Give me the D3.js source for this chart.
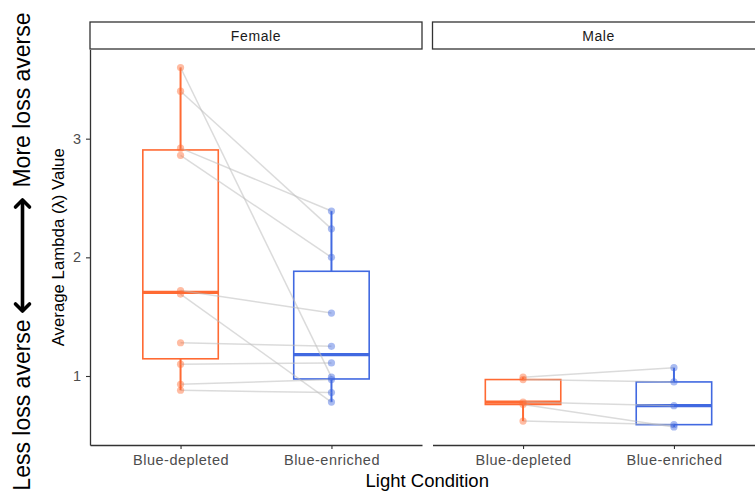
<!DOCTYPE html>
<html>
<head>
<meta charset="utf-8">
<script src="https://cdn.jsdelivr.net/npm/d3@7"></script>
<style>
  body { margin: 0; background: #fff; }
  svg { display: block; font-family: "Liberation Sans", Arial, sans-serif; }
</style>
</head>
<body>
<div id="vis"></div>
<script>
// set constants
const FRAME_WIDTH = 755;
const FRAME_HEIGHT = 492;

// data (paired: index i in depleted matches index i in enriched)
const PANELS = ["Female", "Male"];
const CONDITIONS = ["Blue-depleted", "Blue-enriched"];
const FEMALE_DEPLETED = [3.60, 3.40, 2.92, 2.86, 1.72, 1.69, 1.28, 1.10, 0.93, 0.88];
const FEMALE_ENRICHED = [0.99, 2.24, 2.39, 2.00, 1.53, 0.78, 1.25, 1.11, 0.97, 0.86];
const MALE_DEPLETED = [0.99, 0.97, 0.78, 0.76, 0.62];
const MALE_ENRICHED = [1.07, 0.95, 0.75, 0.57, 0.59];
const Y_TICKS = [1, 2, 3];

const COLORS = {"Blue-depleted": "#FF6A33", "Blue-enriched": "#4169E1"};

const PANEL_TOP = 49.5;
const PANEL_BOTTOM = 445;
const STRIP_TOP = 22;
const PANEL_X = [[90, 422], [432.5, 764.5]];
const TICK_FONT = "14.5px";

const FRAME = d3.select("#vis")
  .append("svg")
    .attr("width", FRAME_WIDTH)
    .attr("height", FRAME_HEIGHT);

const allVals = FEMALE_DEPLETED.concat(FEMALE_ENRICHED, MALE_DEPLETED, MALE_ENRICHED);
const yMin = d3.min(allVals), yMax = d3.max(allVals);
const pad = (yMax - yMin) * 0.05;

const Y_SCALE = d3.scaleLinear()
  .domain([yMin - pad, yMax + pad])
  .range([PANEL_BOTTOM, PANEL_TOP]);

const panelData = [
  {name: PANELS[0], dep: FEMALE_DEPLETED, enr: FEMALE_ENRICHED},
  {name: PANELS[1], dep: MALE_DEPLETED, enr: MALE_ENRICHED}
];

function boxStats(vals) {
  const s = vals.slice().sort(d3.ascending);
  const q1 = d3.quantile(s, 0.25), med = d3.quantile(s, 0.5), q3 = d3.quantile(s, 0.75);
  const iqr = q3 - q1;
  const lo = d3.min(s.filter(v => v >= q1 - 1.5 * iqr));
  const hi = d3.max(s.filter(v => v <= q3 + 1.5 * iqr));
  return {q1, med, q3, lo, hi};
}

panelData.forEach((p, i) => {
  const [x0, x1] = PANEL_X[i];
  const X_SCALE = d3.scalePoint().domain(CONDITIONS).range([x0, x1]).padding(0.6);
  const boxW = X_SCALE.step() * 0.5;
  const g = FRAME.append("g");

  // strip
  g.append("rect")
    .attr("x", x0).attr("y", STRIP_TOP)
    .attr("width", x1 - x0).attr("height", PANEL_TOP - STRIP_TOP - 0.5)
    .attr("fill", "#fff").attr("stroke", "#333").attr("stroke-width", 1.3);
  g.append("text")
    .attr("x", (x0 + x1) / 2).attr("y", 40.7)
    .attr("text-anchor", "middle")
    .style("font-size", "14px").style("letter-spacing", "0.6px")
    .attr("fill", "#1a1a1a")
    .text(p.name);

  // boxes
  [["Blue-depleted", p.dep], ["Blue-enriched", p.enr]].forEach(([c, vals]) => {
    const st = boxStats(vals);
    const cx = X_SCALE(c);
    const col = COLORS[c];
    g.append("line")
      .attr("x1", cx).attr("x2", cx)
      .attr("y1", Y_SCALE(st.hi)).attr("y2", Y_SCALE(st.q3))
      .attr("stroke", col).attr("stroke-width", 2);
    g.append("line")
      .attr("x1", cx).attr("x2", cx)
      .attr("y1", Y_SCALE(st.q1)).attr("y2", Y_SCALE(st.lo))
      .attr("stroke", col).attr("stroke-width", 2);
    g.append("rect")
      .attr("x", cx - boxW / 2).attr("width", boxW)
      .attr("y", Y_SCALE(st.q3)).attr("height", Y_SCALE(st.q1) - Y_SCALE(st.q3))
      .attr("fill", "none").attr("stroke", col).attr("stroke-width", 1.6);
    g.append("line")
      .attr("x1", cx - boxW / 2).attr("x2", cx + boxW / 2)
      .attr("y1", Y_SCALE(st.med)).attr("y2", Y_SCALE(st.med))
      .attr("stroke", col).attr("stroke-width", 3.2);
  });

  // paired lines
  g.append("g")
    .selectAll("line")
    .data(d3.zip(p.dep, p.enr))
    .enter()
    .append("line")
      .attr("x1", X_SCALE("Blue-depleted"))
      .attr("x2", X_SCALE("Blue-enriched"))
      .attr("y1", d => Y_SCALE(d[0]))
      .attr("y2", d => Y_SCALE(d[1]))
      .attr("stroke", "#bdbdbd").attr("stroke-opacity", 0.55).attr("stroke-width", 1.5);

  // points
  [["Blue-depleted", p.dep], ["Blue-enriched", p.enr]].forEach(([c, vals]) => {
    g.append("g")
      .selectAll("circle")
      .data(vals)
      .enter()
      .append("circle")
        .attr("cx", X_SCALE(c))
        .attr("cy", d => Y_SCALE(d))
        .attr("r", 3.6)
        .attr("fill", COLORS[c])
        .attr("fill-opacity", 0.45);
  });

  // x axis
  const xAxis = g.append("g")
    .attr("transform", "translate(0," + PANEL_BOTTOM + ")")
    .call(d3.axisBottom(X_SCALE).tickSize(4).tickPadding(6).tickSizeOuter(0));
  xAxis.select(".domain").attr("stroke", "#333").attr("stroke-width", 1.3);
  xAxis.selectAll(".tick line").attr("stroke", "#333").attr("stroke-width", 1.1);
  xAxis.selectAll("text")
    .style("font-size", TICK_FONT).style("letter-spacing", "0.5px")
    .attr("fill", "#4d4d4d")
    .style("font-family", "'Liberation Sans', Arial, sans-serif");

  // y axis (first panel only)
  if (i === 0) {
    const yAxis = g.append("g")
      .attr("transform", "translate(" + x0 + ",0)")
      .call(d3.axisLeft(Y_SCALE).tickValues(Y_TICKS).tickFormat(d3.format("d"))
        .tickSize(4).tickPadding(5).tickSizeOuter(0));
    yAxis.select(".domain").attr("stroke", "#333").attr("stroke-width", 1.3);
    yAxis.selectAll(".tick line").attr("stroke", "#333").attr("stroke-width", 1.1);
    yAxis.selectAll("text")
      .style("font-size", TICK_FONT).attr("fill", "#4d4d4d")
      .style("font-family", "'Liberation Sans', Arial, sans-serif");
  }
});

// x title
FRAME.append("text")
  .attr("x", (PANEL_X[0][0] + PANEL_X[1][1]) / 2)
  .attr("y", 486.5)
  .attr("text-anchor", "middle")
  .style("font-size", "18.5px")
  .text("Light Condition");

// y title
const midY = (PANEL_TOP + PANEL_BOTTOM) / 2;
FRAME.append("text")
  .attr("transform", "translate(64," + midY + ") rotate(-90)")
  .attr("text-anchor", "middle")
  .style("font-size", "16.8px")
  .text("Average Lambda (\u03bb) Value");

// loss aversion annotation
FRAME.append("text")
  .attr("transform", "translate(30,100) rotate(-90)")
  .attr("text-anchor", "middle")
  .style("font-size", "23px")
  .text("More loss averse");
FRAME.append("text")
  .attr("transform", "translate(30,405) rotate(-90)")
  .attr("text-anchor", "middle")
  .style("font-size", "23px")
  .text("Less loss averse");

// double arrow
const ARROW_X = 22.5, ARROW_TOP = 200, ARROW_BOT = 311, HEAD = 7;
const arrow = FRAME.append("g")
  .attr("fill", "none").attr("stroke", "#000").attr("stroke-width", 3.6)
  .attr("stroke-linecap", "round").attr("stroke-linejoin", "round");
arrow.append("line")
  .attr("x1", ARROW_X).attr("x2", ARROW_X)
  .attr("y1", ARROW_TOP + 1).attr("y2", ARROW_BOT - 1);
arrow.append("path")
  .attr("d", d3.line()([[ARROW_X - HEAD, ARROW_TOP + HEAD], [ARROW_X, ARROW_TOP], [ARROW_X + HEAD, ARROW_TOP + HEAD]]));
arrow.append("path")
  .attr("d", d3.line()([[ARROW_X - HEAD, ARROW_BOT - HEAD], [ARROW_X, ARROW_BOT], [ARROW_X + HEAD, ARROW_BOT - HEAD]]));
</script>
</body>
</html>
